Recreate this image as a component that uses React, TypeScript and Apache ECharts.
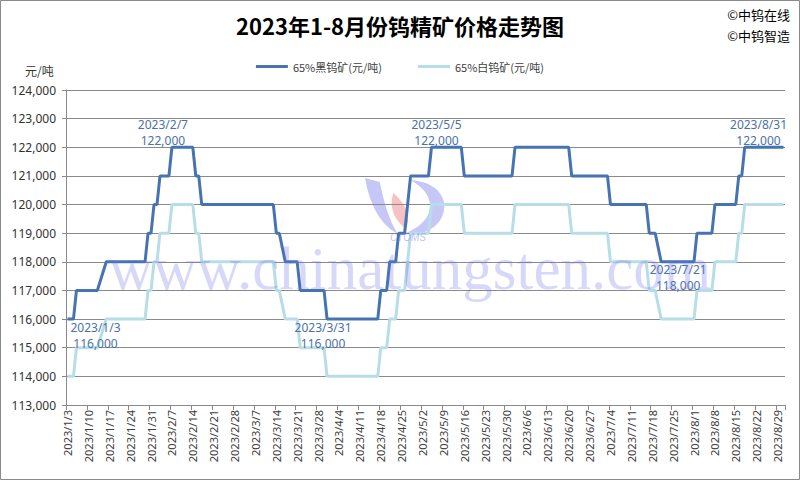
import React, { useEffect, useRef } from "react";
import * as echarts from "echarts";

// Dates where the price lines change direction (corner points of the step lines)
const cornerDates = [
  "2023/1/3", "2023/1/5", "2023/1/6", "2023/1/13", "2023/1/16", "2023/1/29", "2023/1/30", "2023/1/31",
  "2023/2/1", "2023/2/2", "2023/2/3", "2023/2/6", "2023/2/7", "2023/2/14", "2023/2/15", "2023/2/16",
  "2023/2/17", "2023/3/13", "2023/3/14", "2023/3/15", "2023/3/17", "2023/3/21", "2023/3/22", "2023/3/30",
  "2023/3/31", "2023/4/17", "2023/4/18", "2023/4/20", "2023/4/21", "2023/4/23", "2023/4/24", "2023/4/26",
  "2023/4/27", "2023/4/28", "2023/5/4", "2023/5/5", "2023/5/15", "2023/5/16", "2023/6/1", "2023/6/2",
  "2023/6/20", "2023/6/21", "2023/7/3", "2023/7/4", "2023/7/16", "2023/7/17", "2023/7/19", "2023/7/21",
  "2023/8/1", "2023/8/2", "2023/8/7", "2023/8/8", "2023/8/15", "2023/8/16", "2023/8/17", "2023/8/18",
  "2023/8/31",
];

// 65% 黑钨矿 (wolframite) price, 元/吨
const wolframiteValues = [
  116000, 116000, 117000, 117000, 118000, 118000, 119000, 119000,
  120000, 120000, 121000, 121000, 122000, 122000, 121000, 121000,
  120000, 120000, 119000, 119000, 118000, 118000, 117000, 117000,
  116000, 116000, 117000, 117000, 118000, 118000, 119000, 119000,
  120000, 121000, 121000, 122000, 122000, 121000, 121000, 122000,
  122000, 121000, 121000, 120000, 120000, 119000, 119000, 118000,
  118000, 119000, 119000, 120000, 120000, 121000, 121000, 122000,
  122000,
];

// 65% 白钨矿 (scheelite) price, 元/吨
const scheeliteValues = [
  114000, 114000, 115000, 115000, 116000, 116000, 117000, 117000,
  118000, 118000, 119000, 119000, 120000, 120000, 119000, 119000,
  118000, 118000, 117000, 117000, 116000, 116000, 115000, 115000,
  114000, 114000, 115000, 115000, 116000, 116000, 117000, 117000,
  118000, 119000, 119000, 120000, 120000, 119000, 119000, 120000,
  120000, 119000, 119000, 118000, 118000, 117000, 117000, 116000,
  116000, 117000, 117000, 118000, 118000, 119000, 119000, 120000,
  120000,
];

// Annotated points on the wolframite line
const annotationDates = ["2023/1/3", "2023/2/7", "2023/3/31", "2023/5/5", "2023/7/21", "2023/8/31"];
const annotationValues = [116000, 122000, 116000, 122000, 118000, 122000];
const annotationOffsets = [[28, 16], [-9, -15], [-4, 16], [5, -15], [17, 16], [-25, -15]];

const seriesNames = ["65%黑钨矿(元/吨)", "65%白钨矿(元/吨)"];
const titleText = "2023年1-8月份钨精矿价格走势图";
const yMin = 113000;
const yMax = 124000;
const yStep = 1000;

// watermark logo shapes
const g: any = echarts.graphic;
if (!(globalThis as any).__wmShapes) {
  (globalThis as any).__wmShapes = true;
  g.registerShape("wmLeft", g.extendPath("M 2 2 C 6 27 15 47 33 58 C 25 44 20 27 16 6 Z", {}));
  g.registerShape(
    "wmRight",
    g.extendPath("M 45 4 C 75 6 84 28 73 45 C 66 55 53 60 38 58 C 60 50 69 34 61 19 C 57 12 52 8 45 4 Z", {})
  );
  g.registerShape("wmFlame", g.extendPath("M 29 17 C 24 32 31 45 41 53 C 46 42 41 28 29 17 Z", {}));
}

// calendar-day axis from 2023/1/3 to 2023/8/31
function buildDays(): string[] {
  const out: string[] = [];
  const d = new Date(2023, 0, 3);
  const end = new Date(2023, 7, 31);
  while (d <= end) {
    out.push(`${d.getFullYear()}/${d.getMonth() + 1}/${d.getDate()}`);
    d.setDate(d.getDate() + 1);
  }
  return out;
}

const fmt = (v: number) => v.toLocaleString("en-US");

export default function App() {
  const ref = useRef<HTMLDivElement>(null);
  useEffect(() => {
    if (!ref.current) return;
    const chart = echarts.init(ref.current, null, { renderer: "svg" });
    const days = buildDays();
    const darkData = cornerDates.map((d, i) => [d, wolframiteValues[i]]);
    const lightData = cornerDates.map((d, i) => [d, scheeliteValues[i]]);
    const font = "'Noto Sans', 'Noto Sans CJK SC', sans-serif";
    const cjk = "'Noto Sans CJK SC', sans-serif";
    const gridColor = "#8a8a8a";
    const darkColor = "#4674b2";
    const lightColor = "#b7dee8";

    chart.setOption({
      animation: false,
      backgroundColor: "#ffffff",
      title: {
        text: titleText,
        left: "center",
        top: 9,
        textStyle: { fontSize: 22, fontWeight: "bold", color: "#000", fontFamily: cjk },
      },
      legend: {
        data: seriesNames,
        left: "center",
        top: 56,
        icon: "rect",
        itemWidth: 32,
        itemHeight: 3,
        itemGap: 36,
        textStyle: { fontSize: 11, color: "#404040", fontFamily: cjk },
      },
      grid: { left: 66, top: 90, right: 15, bottom: 75, containLabel: false },
      xAxis: {
        type: "category",
        data: days,
        boundaryGap: true,
        axisLine: { lineStyle: { color: gridColor, width: 1 } },
        axisTick: { show: true, interval: 6, length: 5, alignWithLabel: false, lineStyle: { color: gridColor } },
        axisLabel: { interval: 6, rotate: 90, fontSize: 11, color: "#404040", margin: 5, fontFamily: font },
        splitLine: { show: false },
      },
      yAxis: {
        type: "value",
        min: yMin,
        max: yMax,
        interval: yStep,
        axisLine: { show: true, lineStyle: { color: gridColor, width: 1 } },
        axisTick: { show: true, length: 4, lineStyle: { color: gridColor } },
        axisLabel: {
          formatter: (v: number) => fmt(v),
          fontSize: 12,
          color: "#333",
          margin: 10,
          fontFamily: font,
        },
        splitLine: { show: true, lineStyle: { color: gridColor, width: 1 } },
      },
      series: [
        {
          name: seriesNames[1],
          type: "line",
          data: lightData,
          showSymbol: false,
          symbol: "none",
          lineStyle: { color: lightColor, width: 3 },
          itemStyle: { color: lightColor },
          z: 2,
        },
        {
          name: seriesNames[0],
          type: "line",
          data: darkData,
          showSymbol: false,
          symbol: "none",
          lineStyle: { color: darkColor, width: 3 },
          itemStyle: { color: darkColor },
          z: 3,
          markPoint: {
            symbol: "circle",
            symbolSize: 1,
            itemStyle: { color: "rgba(0,0,0,0)" },
            data: annotationDates.map((d, i) => ({
              coord: [days.indexOf(d), annotationValues[i]],
              label: {
                show: true,
                position: "inside",
                offset: annotationOffsets[i],
                formatter: `${d}\n${fmt(annotationValues[i])}`,
                color: "#4a72a8",
                fontSize: 12,
                lineHeight: 16,
                fontFamily: font,
              },
            })),
          },
        },
      ],
      graphic: [
        {
          type: "rect",
          shape: { x: 0.5, y: 0.5, width: 799, height: 479 },
          style: { fill: "none", stroke: "#8a8a8a", lineWidth: 1 },
          silent: true,
          z: 200,
        },
        {
          type: "text",
          right: 10,
          top: 8,
          style: { text: "©中钨在线", fontSize: 13, fill: "#000", fontFamily: cjk },
        },
        {
          type: "text",
          right: 10,
          top: 29,
          style: { text: "©中钨智造", fontSize: 13, fill: "#000", fontFamily: cjk },
        },
        {
          type: "text",
          left: 25,
          top: 64,
          style: { text: "元/吨", fontSize: 12, fill: "#333", fontFamily: cjk },
        },
        {
          type: "group",
          x: 363,
          y: 176,
          scaleX: 1.05,
          scaleY: 1.0,
          silent: true,
          z: 99,
          children: [
            { type: "wmLeft", style: { fill: "rgba(120,120,235,0.42)" } },
            { type: "wmRight", style: { fill: "rgba(120,120,235,0.42)" } },
            { type: "wmFlame", style: { fill: "rgba(235,100,100,0.4)" } },
          ],
        },
        {
          type: "text",
          x: 408,
          y: 237,
          style: {
            text: "CTOMS",
            fontSize: 10,
            fontStyle: "italic",
            fontFamily: "'Liberation Sans', sans-serif",
            fill: "rgba(110,110,235,0.45)",
            align: "center",
            verticalAlign: "middle",
          },
          silent: true,
          z: 100,
        },
        {
          type: "text",
          x: 410,
          y: 268,
          style: {
            text: "www.chinatungsten.com",
            fontSize: 61,
            fontFamily: "'Liberation Serif', serif",
            fill: "rgba(110,110,235,0.28)",
            align: "center",
            verticalAlign: "middle",
          },
          silent: true,
          z: 100,
        },
      ],
    });
    return () => chart.dispose();
  }, []);
  return (
    <div
      ref={ref}
      style={{ position: "absolute", left: 0, top: 0, width: 800, height: 480, background: "#fff" }}
    />
  );
}
